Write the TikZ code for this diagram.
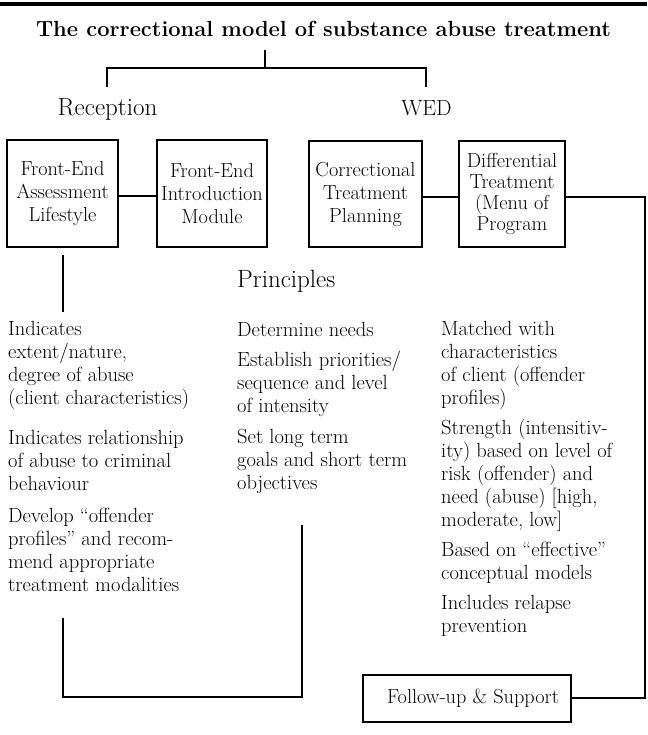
\documentclass[tikz,border=0pt]{standalone}
\usepackage{fontspec}
\begin{document}
\begin{tikzpicture}[x=1pt,y=-1pt,
  box/.style={draw, line width=1.3pt, align=center, inner sep=0pt,
    font=\fontsize{20.3}{23}\selectfont},
  % paragraphs are placed by the baseline of their last line
  para/.style={align=left, anchor=base west, inner sep=0pt,
    font=\fontsize{20.5}{23}\selectfont},
  head/.style={inner sep=0pt, font=\fontsize{25}{28}\selectfont},
  link/.style={line width=2pt},
]
\useasboundingbox (0,0) rectangle (647,735);

% heavy rule along the top edge
\draw[line width=4pt] (0,4) -- (647,4);

% title and the two branches
\node[anchor=base, inner sep=0pt, font=\fontsize{21.9}{25}\selectfont\bfseries]
  (title) at (323.5,37) {The correctional model of substance abuse treatment};
\node[head, anchor=base] (rec) at (107.5,116) {Reception};
\node[head, anchor=base, font=\fontsize{22}{26}\selectfont] (wed) at (426.5,116) {WED};

\coordinate (stemtop) at (265,50);
\coordinate (stem) at (265,68);
\coordinate (recj) at (107,68);
\coordinate (wedj) at (426,68);
\coordinate (recl) at (107,87);
\coordinate (wedl) at (426,87);
\draw[link] (stemtop) -- (stem);
\draw[link] (recl) -- (recj) -- (wedj) -- (wedl);

% stage boxes
\node[box, minimum width=111pt, minimum height=107pt] (fea) at (62.5,193.5)
  {Front-End\\Assessment\\Lifestyle};
\node[box, minimum width=110pt, minimum height=107pt] (fei) at (212,193.5)
  {Front-End\\Introduction\\Module};
\node[box, minimum width=113pt, minimum height=106pt] (ctp) at (365.5,194)
  {Correctional\\Treatment\\Planning};
\node[box, minimum width=106pt, minimum height=106pt,
  font=\fontsize{20.3}{21}\selectfont] (dt) at (512,194)
  {Differential\\Treatment\\(Menu of\\Program};

\draw[link] ([yshift=-3pt]fea.east) -- ([yshift=-3pt]fei.west);
\draw[link] ([yshift=-3pt]ctp.east) -- ([yshift=-3pt]dt.west);

% principles heading
\node[head, anchor=base west] (prin) at (237,287) {Principles};

% left column
\node[para] (l1) at (8,404)
  {Indicates\\extent/nature,\\degree of abuse\\(client characteristics)};
\node[para] (l2) at (8,490)
  {Indicates relationship\\of abuse to criminal\\behaviour};
\node[para] (l3) at (8,591)
  {Develop “offender\\profiles” and recom-\\mend appropriate\\treatment modalities};

% middle column
\node[para] (m1) at (237,336) {Determine needs};
\node[para] (m2) at (237,412) {Establish priorities/\\sequence and level\\of intensity};
\node[para] (m3) at (237,489) {Set long term\\goals and short term\\objectives};

% right column
\node[para] (r1) at (441,404)
  {Matched with\\characteristics\\of client (offender\\profiles)};
\node[para] (r2) at (441,526)
  {Strength (intensitiv-\\ity) based on level of\\risk (offender) and\\need (abuse) [high,\\moderate, low]};
\node[para] (r3) at (441,579) {Based on “effective”\\conceptual models};
\node[para] (r4) at (441,632) {Includes relapse\\prevention};

% follow-up box
\node[draw, line width=2pt, minimum width=208pt, minimum height=47pt,
  inner sep=0pt, font=\fontsize{20.3}{23}\selectfont] (fu) at (467,698.5)
  {\hspace*{12pt}Follow-up \& Support};

% connectors from the assessment column down and across to the principles
\coordinate (aTop) at (63,255);
\coordinate (aBot) at (63,312);
\coordinate (bStart) at (63,618);
\coordinate (bCorner) at (63,697);
\coordinate (bCorner2) at (302,697);
\coordinate (bEnd) at (302,525);
\draw[link] (aTop) -- (aBot);
\draw[link] (bStart) -- (bCorner) -- (bCorner2) -- (bEnd);

% from differential treatment round to follow-up
\coordinate (rc1) at (645,197);
\coordinate (rc2) at (645,698);
\draw[link] ([yshift=-3pt]dt.east) -- (rc1) -- (rc2) -- (fu.east |- rc2);
\end{tikzpicture}
\end{document}
